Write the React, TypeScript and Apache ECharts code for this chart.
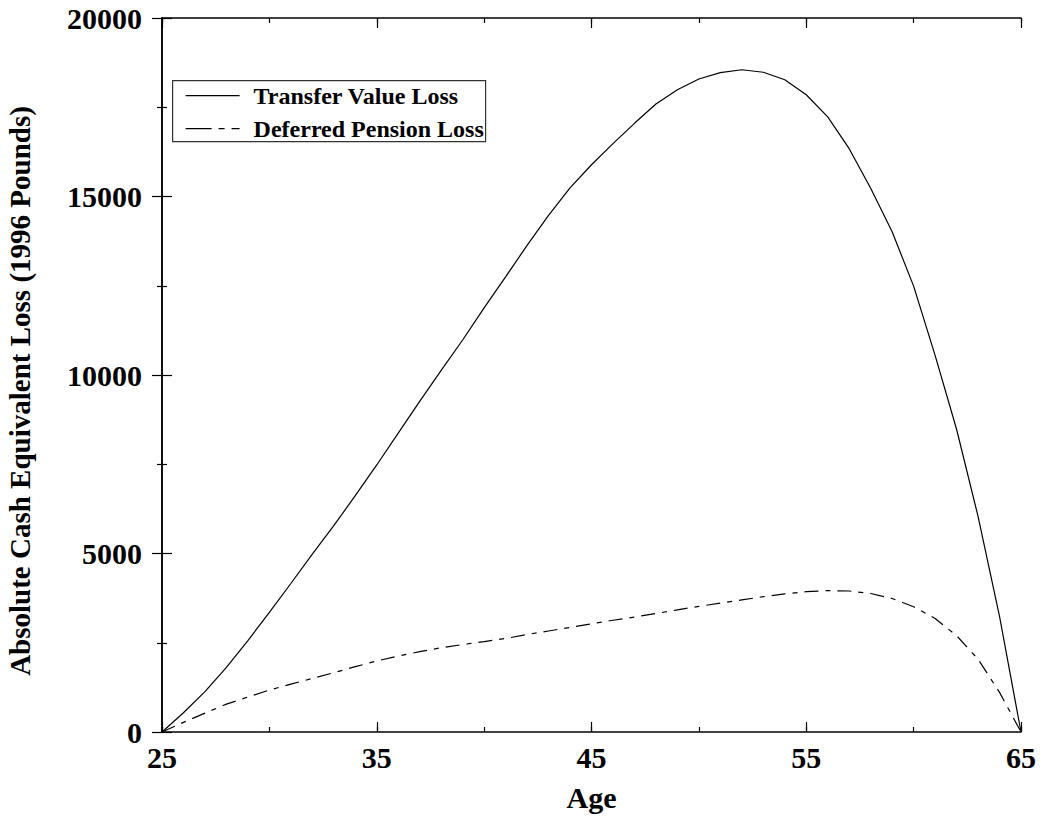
import React, { useEffect, useRef } from "react";
import * as echarts from "echarts";

const ages = [25,26,27,28,29,30,31,32,33,34,35,36,37,38,39,40,41,42,43,44,45,46,47,48,49,50,51,52,53,54,55,56,57,58,59,60,61,62,63,64,65];
const transferValueLoss = [0,540,1130,1810,2560,3350,4160,4980,5780,6620,7480,8370,9260,10130,10980,11880,12750,13630,14470,15240,15890,16480,17050,17590,17990,18290,18470,18550,18480,18270,17850,17230,16340,15230,14010,12490,10550,8480,6040,3240,0];
const deferredPensionLoss = [0,270,530,780,980,1175,1340,1500,1660,1830,1990,2130,2250,2360,2450,2530,2620,2730,2830,2930,3030,3130,3220,3320,3420,3520,3610,3700,3790,3870,3930,3960,3950,3880,3740,3510,3180,2700,2040,1110,0];
const seriesNames = ["Transfer Value Loss", "Deferred Pension Loss"];
const xLabelAges = [25, 35, 45, 55, 65];

const FONT = "'Liberation Serif', 'Times New Roman', serif";

export default function App() {
  const ref = useRef<HTMLDivElement>(null);
  useEffect(() => {
    if (!ref.current) return;
    const chart = echarts.init(ref.current, undefined, { renderer: "svg" });
    const axisLine = { show: true, lineStyle: { color: "#000", width: 1.5 } };
    const tickLabelStyle = { color: "#000", fontFamily: FONT, fontWeight: "bold" as const, fontSize: 30 };
    const tickLine = { color: "#000", width: 1.2 };
    const dash = [14, 7, 5, 7];
    chart.setOption({
      animation: false,
      backgroundColor: "#fff",
      grid: { left: 162, top: 18, right: 20, bottom: 89, containLabel: false, outerBoundsMode: "none" },
      xAxis: [
        {
          type: "value", position: "bottom", min: 25, max: 65, interval: 5,
          axisLine, splitLine: { show: false },
          axisTick: { show: true, inside: true, length: 5, lineStyle: tickLine },
          axisLabel: {
            ...tickLabelStyle, margin: 10,
            formatter: (v: number) => (xLabelAges.indexOf(v) >= 0 ? String(v) : ""),
          },
          name: "Age", nameLocation: "middle", nameGap: 50,
          nameTextStyle: { color: "#000", fontFamily: FONT, fontWeight: "bold", fontSize: 30 },
        },
        {
          type: "value", position: "bottom", min: 0, max: 40, interval: 10,
          axisLine: { show: false }, splitLine: { show: false }, axisLabel: { show: false },
          axisTick: { show: true, inside: true, length: 10, lineStyle: tickLine },
        },
        {
          type: "value", position: "top", min: 25, max: 65, interval: 5,
          axisLine, splitLine: { show: false }, axisLabel: { show: false },
          axisTick: { show: true, inside: true, length: 5, lineStyle: tickLine },
        },
        {
          type: "value", position: "top", min: 0, max: 40, interval: 10,
          axisLine: { show: false }, splitLine: { show: false }, axisLabel: { show: false },
          axisTick: { show: true, inside: true, length: 10, lineStyle: tickLine },
        },
      ],
      yAxis: [
        {
          type: "value", position: "left", min: 0, max: 20000, interval: 5000,
          axisLine, splitLine: { show: false },
          axisTick: { show: true, inside: true, length: 10, lineStyle: tickLine },
          minorTick: { show: true, splitNumber: 2, length: 5, lineStyle: tickLine },
          axisLabel: { ...tickLabelStyle, margin: 20, formatter: (v: number) => String(v) },
          name: "Absolute Cash Equivalent Loss (1996 Pounds)", nameLocation: "middle", nameGap: 128,
          nameTextStyle: { color: "#000", fontFamily: FONT, fontWeight: "bold", fontSize: 29, padding: [0, 32, 0, 0] },
        },
        {
          type: "value", position: "right", min: 0, max: 20000, interval: 5000,
          axisLine, splitLine: { show: false }, axisLabel: { show: false },
          axisTick: { show: true, inside: true, length: 10, lineStyle: tickLine },
          minorTick: { show: true, splitNumber: 2, length: 5, lineStyle: tickLine },
        },
      ],
      series: [
        {
          name: seriesNames[0], type: "line", xAxisIndex: 0, yAxisIndex: 0,
          data: ages.map((a, i) => [a, transferValueLoss[i]]),
          symbol: "none", lineStyle: { color: "#000", width: 1.2 },
        },
        {
          name: seriesNames[1], type: "line", xAxisIndex: 0, yAxisIndex: 0,
          data: ages.map((a, i) => [a, deferredPensionLoss[i]]),
          symbol: "none", lineStyle: { color: "#000", width: 1.2, type: dash },
        },
      ],
      graphic: [
        {
          type: "group", left: 172, top: 80,
          children: [
            { type: "rect", shape: { x: 0, y: 0, width: 313, height: 61 }, style: { fill: "#fff", stroke: "#333", lineWidth: 1.2 } },
            { type: "line", shape: { x1: 13, y1: 15, x2: 67, y2: 15 }, style: { stroke: "#000", lineWidth: 1.2 } },
            { type: "line", shape: { x1: 13, y1: 48, x2: 67, y2: 48 }, style: { stroke: "#000", lineWidth: 1.2, lineDash: [26, 7, 6, 7] } },
            { type: "text", x: 81, y: 15, style: { text: seriesNames[0], fill: "#000", font: `bold 24px ${FONT}`, verticalAlign: "middle" } },
            { type: "text", x: 81, y: 48, style: { text: seriesNames[1], fill: "#000", font: `bold 24px ${FONT}`, verticalAlign: "middle" } },
          ],
        },
      ],
    });
    return () => chart.dispose();
  }, []);
  return <div ref={ref} style={{ position: "fixed", left: 0, top: 0, width: 1041, height: 821 }} />;
}
